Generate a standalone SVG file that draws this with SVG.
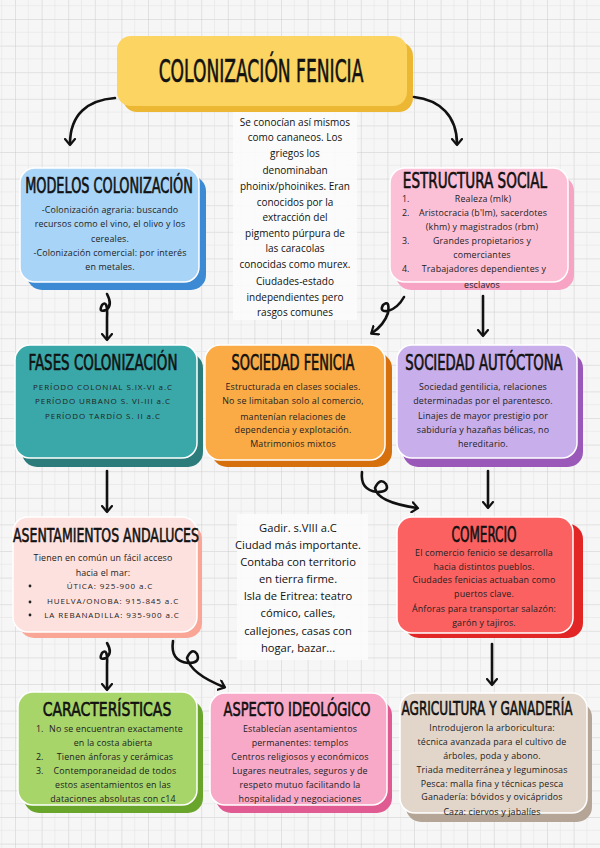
<svg xmlns="http://www.w3.org/2000/svg" width="600" height="848" viewBox="0 0 600 848">
<defs>
<pattern id="grid" x="15" y="19" width="26.6" height="26.6" patternUnits="userSpaceOnUse">
<path d="M0,0 L26.6,0 M0,0 L0,26.6" stroke="#cbcbcb" stroke-width="1" fill="none"/>
<path d="M13.3,0 L13.3,26.6 M0,13.3 L26.6,13.3" stroke="#e4e4e4" stroke-width="0.6" fill="none"/>
</pattern>
<marker id="ah" viewBox="0 0 12 12" refX="6" refY="6" markerWidth="12" markerHeight="12" markerUnits="userSpaceOnUse" orient="auto">
<path d="M1,1 L7,6 L1,11" fill="none" stroke="#111" stroke-width="2.2" stroke-linecap="round" stroke-linejoin="round"/>
</marker>
<style>
.hd{font-family:"DejaVu Sans Condensed","DejaVu Sans",sans-serif;font-weight:normal;fill:#111;stroke:#111;stroke-width:0.6;text-anchor:middle}
.tx{font-family:"Open Sans","Noto Sans",sans-serif;font-size:8.9px;letter-spacing:0.15px;fill:#222;text-anchor:middle}
.tl{font-family:"Open Sans","Noto Sans",sans-serif;font-size:8.9px;fill:#222;text-anchor:start}
.mid{font-family:"Open Sans","Noto Sans",sans-serif;font-size:10px;fill:#111;text-anchor:middle}
.mid2{font-family:"Open Sans","Noto Sans",sans-serif;font-size:11.2px;fill:#111;text-anchor:middle}
.up{font-family:"Open Sans","Noto Sans",sans-serif;font-size:8px;fill:#222;text-anchor:middle;letter-spacing:0.9px}
.box{stroke:#fff;stroke-width:1.5}
.arr{fill:none;stroke:#111;stroke-width:2.6;stroke-linecap:round;stroke-linejoin:round}
</style>
</defs>
<rect width="600" height="848" fill="#f6f6f6"/>
<rect width="600" height="848" fill="url(#grid)"/>

<!-- notes backgrounds -->
<rect x="233" y="112" width="124" height="208" fill="#fbfbfb" opacity="0.92"/>
<rect x="237" y="514" width="131" height="146" fill="#fbfbfb" opacity="0.92"/>

<g id="title">
<rect x="123" y="42" width="290" height="70" rx="14" fill="#ecb733"/>
<rect x="117" y="36" width="290" height="70" rx="14" fill="#fbd462"/>
<text class="hd" transform="translate(261,82) scale(0.65,1)" font-size="32" stroke-width="0.9" textLength="315" lengthAdjust="spacingAndGlyphs">COLONIZACIÓN FENICIA</text>
</g>

<g id="modelos">
<rect x="27" y="176" width="179" height="114" rx="15" fill="#3d8ad4"/>
<rect class="box" x="20" y="168" width="179" height="114" rx="15" fill="#a8d4f7"/>
<text class="hd" transform="translate(109,193) scale(0.65,1)" font-size="20.5" textLength="258" lengthAdjust="spacingAndGlyphs">MODELOS COLONIZACIÓN</text>
<text class="tx" x="110" y="213">-Colonización agraria: buscando</text>
<text class="tx" x="110" y="227">recursos como el vino, el olivo y los</text>
<text class="tx" x="110" y="242">cereales.</text>
<text class="tx" x="110" y="256">-Colonización comercial: por interés</text>
<text class="tx" x="110" y="270">en metales.</text>
</g>

<g id="nota1">
<text class="mid" x="295" y="126">Se conocían así mismos</text>
<text class="mid" x="295" y="141">como cananeos. Los</text>
<text class="mid" x="295" y="157">griegos los</text>
<text class="mid" x="295" y="174">denominaban</text>
<text class="mid" x="295" y="190">phoinix/phoinikes. Eran</text>
<text class="mid" x="295" y="206">conocidos por la</text>
<text class="mid" x="295" y="221">extracción del</text>
<text class="mid" x="295" y="237">pigmento púrpura de</text>
<text class="mid" x="295" y="252">las caracolas</text>
<text class="mid" x="295" y="268">conocidas como murex.</text>
<text class="mid" x="295" y="285">Ciudades-estado</text>
<text class="mid" x="295" y="301">independientes pero</text>
<text class="mid" x="295" y="316">rasgos comunes</text>
</g>

<g id="estructura">
<rect x="396" y="176" width="178" height="114" rx="15" fill="#f6a3c4"/>
<rect class="box" x="390" y="168" width="178" height="114" rx="15" fill="#fcc0d6"/>
<text class="hd" transform="translate(475,188) scale(0.65,1)" font-size="21" textLength="222" lengthAdjust="spacingAndGlyphs">ESTRUCTURA SOCIAL</text>
<text class="tl" x="402" y="202">1.</text>
<text class="tx" x="483" y="202">Realeza (mlk)</text>
<text class="tl" x="402" y="216">2.</text>
<text class="tx" x="483" y="216">Aristocracia (b'lm), sacerdotes</text>
<text class="tx" x="482" y="230">(khm) y magistrados (rbm)</text>
<text class="tl" x="402" y="244">3.</text>
<text class="tx" x="482" y="244">Grandes propietarios y</text>
<text class="tx" x="482" y="258">comerciantes</text>
<text class="tl" x="402" y="272">4.</text>
<text class="tx" x="484" y="272">Trabajadores dependientes y</text>
<text class="tx" x="482" y="288">esclavos</text>
</g>

<g id="fases">
<rect x="22" y="353" width="181" height="114" rx="15" fill="#2b7c7b"/>
<rect class="box" x="15" y="345" width="182" height="113" rx="15" fill="#3aa8a8"/>
<text class="hd" transform="translate(103,370) scale(0.65,1)" font-size="20.5" textLength="229" lengthAdjust="spacingAndGlyphs">FASES COLONIZACIÓN</text>
<text class="up" x="103" y="390">PERÍODO COLONIAL S.IX-VI a.C</text>
<text class="up" x="103" y="404">PERÍODO URBANO S. VI-III a.C</text>
<text class="up" x="103" y="419">PERÍODO TARDÍO S. II a.C</text>
</g>

<g id="fenicia">
<rect x="212" y="353" width="180" height="114" rx="15" fill="#d6700c"/>
<rect class="box" x="205" y="345" width="180" height="115" rx="15" fill="#fbab46"/>
<text class="hd" transform="translate(293,370) scale(0.65,1)" font-size="20.5" textLength="189" lengthAdjust="spacingAndGlyphs">SOCIEDAD FENICIA</text>
<text class="tx" x="293" y="390">Estructurada en clases sociales.</text>
<text class="tx" x="293" y="404">No se limitaban solo al comercio,</text>
<text class="tx" x="293" y="420">mantenían relaciones de</text>
<text class="tx" x="293" y="433">dependencia y explotación.</text>
<text class="tx" x="293" y="447">Matrimonios mixtos</text>
</g>

<g id="autoctona">
<rect x="403" y="353" width="180" height="114" rx="15" fill="#9a58b8"/>
<rect class="box" x="397" y="345" width="180" height="113" rx="15" fill="#c8aeea"/>
<text class="hd" transform="translate(484,370) scale(0.65,1)" font-size="20.5" textLength="242" lengthAdjust="spacingAndGlyphs">SOCIEDAD AUTÓCTONA</text>
<text class="tx" x="483" y="390">Sociedad gentilicia, relaciones</text>
<text class="tx" x="483" y="404">determinadas por el parentesco.</text>
<text class="tx" x="483" y="419">Linajes de mayor prestigio por</text>
<text class="tx" x="483" y="433">sabiduría y hazañas bélicas, no</text>
<text class="tx" x="483" y="447">hereditario.</text>
</g>

<g id="asentamientos">
<rect x="19" y="524" width="183" height="114" rx="15" fill="#f9a697"/>
<rect class="box" x="13" y="517" width="184" height="115" rx="15" fill="#fde1de"/>
<text class="hd" transform="translate(106,542) scale(0.65,1)" font-size="19.5" textLength="286" lengthAdjust="spacingAndGlyphs">ASENTAMIENTOS ANDALUCES</text>
<text class="tx" x="103" y="561">Tienen en común un fácil acceso</text>
<text class="tx" x="103" y="576">hacia el mar:</text>
<circle cx="30" cy="586" r="1.4" fill="#222"/>
<circle cx="30" cy="602" r="1.4" fill="#222"/>
<circle cx="30" cy="615" r="1.4" fill="#222"/>
<text class="up" x="110" y="589" letter-spacing="0.5">ÚTICA: 925-900 a.C</text>
<text class="up" x="113" y="604" letter-spacing="0.5">HUELVA/ONOBA: 915-845 a.C</text>
<text class="up" x="112" y="618" letter-spacing="0.5">LA REBANADILLA: 935-900 a.C</text>
</g>

<g id="nota2">
<text class="mid2" x="298" y="532">Gadir. s.VIII a.C</text>
<text class="mid2" x="298" y="549">Ciudad más importante.</text>
<text class="mid2" x="298" y="566">Contaba con territorio</text>
<text class="mid2" x="298" y="583">en tierra firme.</text>
<text class="mid2" x="298" y="600">Isla de Eritrea: teatro</text>
<text class="mid2" x="298" y="617">cómico, calles,</text>
<text class="mid2" x="298" y="635">callejones, casas con</text>
<text class="mid2" x="298" y="652">hogar, bazar...</text>
</g>

<g id="comercio">
<rect x="404" y="524" width="179" height="114" rx="15" fill="#e22626"/>
<rect class="box" x="397" y="517" width="176" height="116" rx="15" fill="#fb6161"/>
<text class="hd" transform="translate(484,542) scale(0.65,1)" font-size="21" textLength="100" lengthAdjust="spacingAndGlyphs">COMERCIO</text>
<text class="tx" x="484" y="556">El comercio fenicio se desarrolla</text>
<text class="tx" x="484" y="570">hacia distintos pueblos.</text>
<text class="tx" x="484" y="583">Ciudades fenicias actuaban como</text>
<text class="tx" x="484" y="597">puertos clave.</text>
<text class="tx" x="484" y="612">Ánforas para transportar salazón:</text>
<text class="tx" x="484" y="626">garón y tajiros.</text>
</g>

<g id="caracteristicas">
<rect x="24" y="700" width="179" height="113" rx="15" fill="#6aa52b"/>
<rect class="box" x="18" y="692" width="179" height="113" rx="15" fill="#a7d56a"/>
<text class="hd" transform="translate(107,716) scale(0.65,1)" font-size="20" textLength="198" lengthAdjust="spacingAndGlyphs">CARACTERÍSTICAS</text>
<text class="tl" x="36" y="731.5">1.</text>
<text class="tx" x="116" y="731.5">No se encuentran exactamente</text>
<text class="tx" x="113" y="746">en la costa abierta</text>
<text class="tl" x="36" y="760">2.</text>
<text class="tx" x="115" y="760">Tienen ánforas y cerámicas</text>
<text class="tl" x="36" y="774">3.</text>
<text class="tx" x="115" y="774">Contemporaneidad de todos</text>
<text class="tx" x="113" y="788">estos asentamientos en las</text>
<text class="tx" x="113" y="802">dataciones absolutas con c14</text>
</g>

<g id="ideologico">
<rect x="216" y="700" width="176" height="113" rx="15" fill="#df5b92"/>
<rect class="box" x="210" y="693" width="177" height="112" rx="15" fill="#f8a9c8"/>
<text class="hd" transform="translate(297,716) scale(0.65,1)" font-size="20" textLength="226" lengthAdjust="spacingAndGlyphs">ASPECTO IDEOLÓGICO</text>
<text class="tx" x="300" y="731.5">Establecían asentamientos</text>
<text class="tx" x="300" y="746">permanentes: templos</text>
<text class="tx" x="300" y="760">Centros religiosos y económicos</text>
<text class="tx" x="300" y="774">Lugares neutrales, seguros y de</text>
<text class="tx" x="300" y="788">respeto mutuo facilitando la</text>
<text class="tx" x="300" y="802">hospitalidad y negociaciones</text>
</g>

<g id="agricultura">
<rect x="406" y="702" width="186" height="120" rx="15" fill="#b5a596"/>
<rect class="box" x="400" y="693" width="187" height="120" rx="15" fill="#e2d6ca"/>
<text class="hd" transform="translate(487,715) scale(0.65,1)" font-size="19.5" textLength="263" lengthAdjust="spacingAndGlyphs">AGRICULTURA Y GANADERÍA</text>
<text class="tx" x="492" y="731">Introdujeron la arboricultura:</text>
<text class="tx" x="492" y="745">técnica avanzada para el cultivo de</text>
<text class="tx" x="492" y="759">árboles, poda y abono.</text>
<text class="tx" x="492" y="773">Triada mediterránea y leguminosas</text>
<text class="tx" x="492" y="787">Pesca: malla fina y técnicas pesca</text>
<text class="tx" x="492" y="800">Ganadería: bóvidos y ovicápridos</text>
<text class="tx" x="492" y="815">Caza: ciervos y jabalíes</text>
</g>

<g id="connectors">
<path class="arr" marker-end="url(#ah)" d="M115,98 C88,100 70,114 70,144"/>
<path class="arr" marker-end="url(#ah)" d="M414,97 C440,100 457,116 457,144"/>
<path class="arr" marker-end="url(#ah)" d="M107,294 Q113,305 106,310 Q98,313 102,305 Q108,299 107,318 L107,339"/>
<path class="arr" marker-end="url(#ah)" d="M404,297 Q398,308 388,311 Q379,312 383,305 Q390,299 388,313 Q384,325 372,333"/>
<path class="arr" marker-end="url(#ah)" d="M483,296 L483,335"/>
<path class="arr" marker-end="url(#ah)" d="M107,471 L107,511"/>
<path class="arr" marker-end="url(#ah)" d="M362,472 Q360,490 377,492 Q390,492 386,484 Q380,477 375,488 Q377,502 417,508"/>
<path class="arr" marker-end="url(#ah)" d="M488,471 L488,507"/>
<path class="arr" marker-end="url(#ah)" d="M107,643 Q113,653 106,658 Q98,661 102,653 Q108,647 107,665 L107,689"/>
<path class="arr" marker-end="url(#ah)" d="M173,641 Q170,661 188,663 Q201,663 197,654 Q192,647 187,658 Q191,674 224,687"/>
<path class="arr" marker-end="url(#ah)" d="M492,644 L492,684"/>
</g>
</svg>
